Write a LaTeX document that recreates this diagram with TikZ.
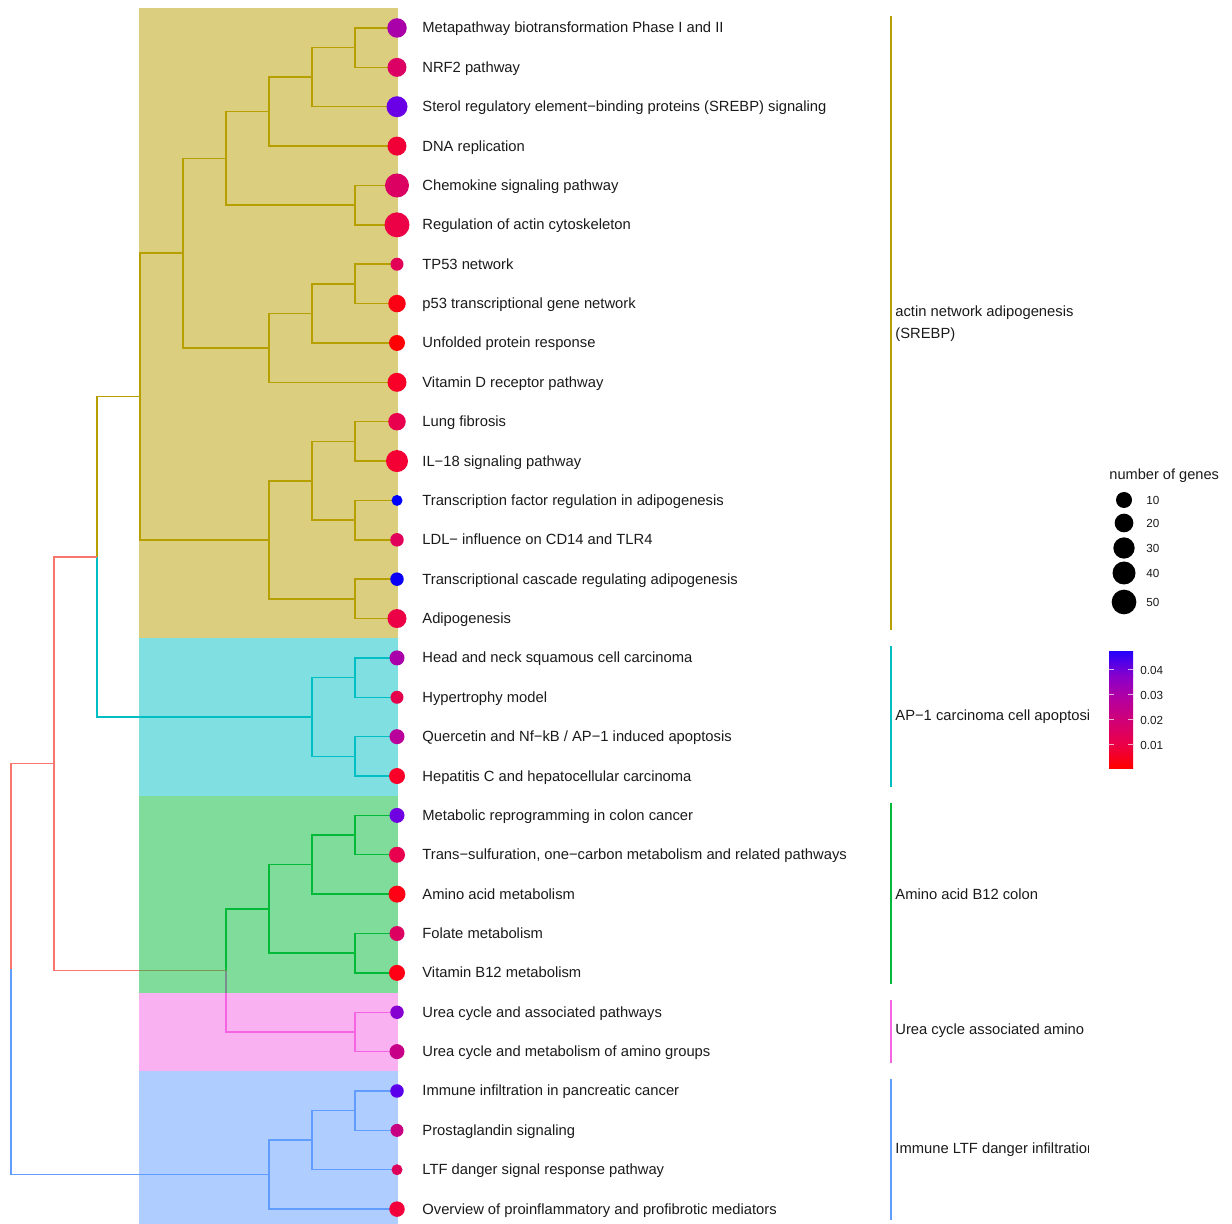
\documentclass[tikz,border=0pt]{standalone}
\usepackage{fontspec}
\setmainfont{Liberation Sans}
\definecolor{cRed}{HTML}{F8766D}
\definecolor{cYel}{HTML}{B79F00}
\definecolor{cGrn}{HTML}{00BA38}
\definecolor{cCyn}{HTML}{00BFC4}
\definecolor{cBlu}{HTML}{619CFF}
\definecolor{cPnk}{HTML}{F564E3}
\definecolor{txt}{HTML}{1A1A1A}
\definecolor{g0}{RGB}{255,0,0}
\definecolor{g1}{RGB}{235,0,70}
\definecolor{g2}{RGB}{210,0,115}
\definecolor{g3}{RGB}{180,0,160}
\definecolor{g4}{RGB}{135,0,205}
\definecolor{g5}{RGB}{40,0,250}
\begin{document}
\begin{tikzpicture}[x=0.5pt,y=-0.5pt,
  edge/.style={line width=0.72pt},
  band/.style={opacity=0.5},
  leaflabel/.style={anchor=base west,inner sep=0pt,text=txt,font=\fontsize{7.38}{9}\selectfont},
  grplabel/.style={anchor=west,inner sep=0pt,text=txt,align=left,font=\fontsize{7.38}{11}\selectfont},
  legtext/.style={anchor=base west,inner sep=0pt,text=txt,font=\fontsize{5.85}{7}\selectfont},
  sidebar/.style={line width=0.55pt}]
\useasboundingbox (0,0) rectangle (1232,1224);

% leaves
\foreach \i in {1,...,31}{
  \pgfmathsetmacro{\yy}{28+(\i-1)*39.37}
  \coordinate (L\i) at (397,\yy);
}
% internal nodes
\coordinate (a1) at (355,47.7);
\coordinate (a2) at (312,77.2);
\coordinate (a3) at (269,111.7);
\coordinate (a4) at (355,205.2);
\coordinate (a5) at (226,158.4);
\coordinate (b1) at (355,283.9);
\coordinate (b2) at (312,313.5);
\coordinate (b3) at (269,347.9);
\coordinate (c1) at (183,253.2);
\coordinate (d1) at (355,441.4);
\coordinate (d2) at (355,520.1);
\coordinate (d3) at (312,480.8);
\coordinate (d4) at (355,598.9);
\coordinate (d5) at (269,539.9);
\coordinate (e1) at (140,396.5);
\coordinate (f1) at (355,677.6);
\coordinate (f2) at (355,756.4);
\coordinate (f3) at (312,717.0);
\coordinate (g1) at (97,556.8);
\coordinate (h1) at (355,835.1);
\coordinate (h2) at (312,864.6);
\coordinate (h3) at (355,953.2);
\coordinate (h4) at (269,908.9);
\coordinate (i1) at (355,1032.0);
\coordinate (j1) at (226,970.5);
\coordinate (k1) at (54,763.6);
\coordinate (m1) at (355,1110.7);
\coordinate (m2) at (312,1140.2);
\coordinate (m3) at (269,1174.7);
\coordinate (rt) at (11,969.2);

% dendrogram
\begin{scope}[edge,cYel]
  \foreach \p/\c in {a1/L1,a1/L2,a2/a1,a2/L3,a3/a2,a3/L4,a4/L5,a4/L6,a5/a3,a5/a4,
    b1/L7,b1/L8,b2/b1,b2/L9,b3/b2,b3/L10,c1/a5,c1/b3,
    d1/L11,d1/L12,d2/L13,d2/L14,d3/d1,d3/d2,d4/L15,d4/L16,d5/d3,d5/d4,
    e1/c1,e1/d5,g1/e1}
    \draw (\p) |- (\c);
\end{scope}
\begin{scope}[edge,cCyn]
  \foreach \p/\c in {f1/L17,f1/L18,f2/L19,f2/L20,f3/f1,f3/f2,g1/f3}
    \draw (\p) |- (\c);
\end{scope}
\begin{scope}[edge,cGrn]
  \foreach \p/\c in {h1/L21,h1/L22,h2/h1,h2/L23,h3/L24,h3/L25,h4/h2,h4/h3,j1/h4}
    \draw (\p) |- (\c);
\end{scope}
\begin{scope}[edge,cPnk]
  \foreach \p/\c in {i1/L26,i1/L27,j1/i1}
    \draw (\p) |- (\c);
\end{scope}
\begin{scope}[edge,cRed]
  \foreach \p/\c in {k1/g1,k1/j1,rt/k1}
    \draw (\p) |- (\c);
\end{scope}
\begin{scope}[edge,cBlu]
  \foreach \p/\c in {m1/L28,m1/L29,m2/m1,m2/L30,m3/m2,m3/L31,rt/m3}
    \draw (\p) |- (\c);
\end{scope}

% cluster bands
\fill[band,cYel] (139,8) rectangle (398,638);
\fill[band,cCyn] (139,638) rectangle (398,795.7);
\fill[band,cGrn] (139,795.7) rectangle (398,992.6);
\fill[band,cPnk] (139,992.6) rectangle (398,1071);
\fill[band,cBlu] (139,1071) rectangle (398,1224);

% dots and labels
\foreach \i/\d/\r/\b/\t in {
 1/19.5/170/170/{Metapathway biotransformation Phase I and II},
 2/19/220/100/{NRF2 pathway},
 3/21/105/230/{Sterol regulatory element−binding proteins (SREBP) signaling},
 4/19/240/55/{DNA replication},
 5/24/220/98/{Chemokine signaling pathway},
 6/25/236/70/{Regulation of actin cytoskeleton},
 7/13/225/85/{TP53 network},
 8/17.5/252/20/{p53 transcriptional gene network},
 9/16/255/5/{Unfolded protein response},
 10/19/248/40/{Vitamin D receptor pathway},
 11/17.5/232/78/{Lung fibrosis},
 12/22/245/53/{IL−18 signaling pathway},
 13/11/0/255/{Transcription factor regulation in adipogenesis},
 14/13.5/225/90/{LDL− influence on CD14 and TLR4},
 15/13.5/10/245/{Transcriptional cascade regulating adipogenesis},
 16/19/236/70/{Adipogenesis},
 17/15/170/170/{Head and neck squamous cell carcinoma},
 18/13/230/75/{Hypertrophy model},
 19/15/185/155/{Quercetin and Nf−kB / AP−1 induced apoptosis},
 20/16/250/40/{Hepatitis C and hepatocellular carcinoma},
 21/15/110/225/{Metabolic reprogramming in colon cancer},
 22/16/232/78/{Trans−sulfuration, one−carbon metabolism and related pathways},
 23/17/255/20/{Amino acid metabolism},
 24/15/220/96/{Folate metabolism},
 25/16/255/20/{Vitamin B12 metabolism},
 26/13.5/135/210/{Urea cycle and associated pathways},
 27/15/200/135/{Urea cycle and metabolism of amino groups},
 28/13.5/90/235/{Immune infiltration in pancreatic cancer},
 29/13/200/130/{Prostaglandin signaling},
 30/11/221/90/{LTF danger signal response pathway},
 31/15.5/242/58/{Overview of proinflammatory and profibrotic mediators}}{
  \definecolor{dotc}{RGB}{\r,0,\b}
  \pgfmathsetmacro{\rad}{\d/4}
  \fill[dotc] (L\i) circle[radius=\rad pt];
  \node[leaflabel] (T\i) at ([shift={(25,5)}]L\i) {\t};
}

% side bars and group labels
\draw[sidebar,cYel] (891,16) -- (891,630);
\draw[sidebar,cCyn] (891,646) -- (891,787);
\draw[sidebar,cGrn] (891,803) -- (891,984);
\draw[sidebar,cPnk] (891,1000) -- (891,1063);
\draw[sidebar,cBlu] (891,1079) -- (891,1220);
\begin{scope}
  \clip (880,0) rectangle (1088,1224);
  \node[grplabel] (G1) at (895,324) {actin network adipogenesis\\(SREBP)};
  \node[grplabel] (G2) at (895,717) {AP−1 carcinoma cell apoptosis};
  \node[grplabel] (G3) at (895,894) {Amino acid B12 colon};
  \node[grplabel] (G4) at (895,1031) {Urea cycle associated amino};
  \node[grplabel] (G5) at (895,1150) {Immune LTF danger infiltration};
\end{scope}

% size legend
\node[anchor=base west,inner sep=0pt,text=txt,font=\fontsize{7.3}{9}\selectfont] (LT) at (1109,480) {number of genes};
\foreach \v/\yy/\rr in {10/500/8,20/523/9.35,30/548/10.65,40/573/11.5,50/602/12.35}{
  \fill[black] (1124,\yy) circle[radius=\rr/2 pt];
  \node[legtext] (S\v) at (1146,\yy+4.2) {\v};
}

% colour bar
\shade[bottom color=g0,top color=g1] (1109,768) rectangle (1133,744.8);
\shade[bottom color=g1,top color=g2] (1109,744.8) rectangle (1133,721.6);
\shade[bottom color=g2,top color=g3] (1109,721.6) rectangle (1133,698.4);
\shade[bottom color=g3,top color=g4] (1109,698.4) rectangle (1133,675.2);
\shade[bottom color=g4,top color=g5] (1109,675.2) rectangle (1133,652);
\foreach \v/\yy in {0.04/670,0.03/695,0.02/720,0.01/745}{
  \draw[white,opacity=0.7,line width=0.5pt] (1109,\yy) -- (1114,\yy) (1128,\yy) -- (1133,\yy);
  \node[legtext] at (1140,\yy+4.2) {\v};
}
\end{tikzpicture}
\end{document}
